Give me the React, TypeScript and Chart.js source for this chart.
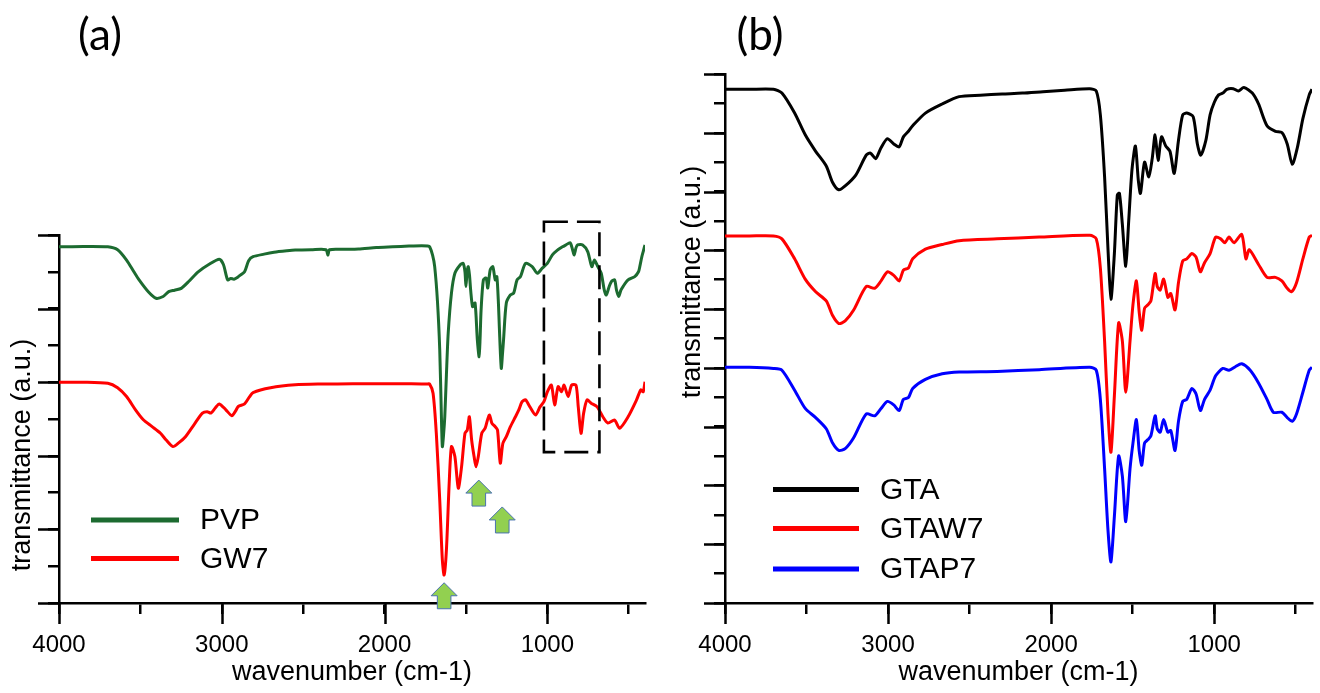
import { useEffect, useRef } from 'react';
import { Chart, registerables } from 'chart.js';

Chart.register(...registerables);

const FONT = '"Liberation Sans", Arial, Helvetica, sans-serif';
const PANEL_FONT = 'Lato, "Open Sans", sans-serif';

// axis ticks
const X_TICKS = [4000, 3500, 3000, 2500, 2000, 1500, 1000, 500];
const X_LABELED = [4000, 3000, 2000, 1000];
const YA_TICKS = [0, 1, 2, 3, 4, 5, 6, 7, 8, 9, 10];
const YA_MAJOR = [0, 2, 4, 6, 8, 10];
const YB_TICKS = [0, 1, 2, 3, 4, 5, 6, 7, 8, 9, 10, 11, 12, 13, 14, 15, 16, 17, 18];
const YB_MAJOR = [0, 2, 4, 6, 8, 10, 12, 14, 16, 18];

// panel (a) spectra: [wavenumber, transmittance (a.u.)]
const PVP: [number, number][] = [
  [4000, 9.68], [3850, 9.69], [3700, 9.68], [3640, 9.6], [3585, 9.32], [3540, 9.0], [3508, 8.78],
  [3450, 8.45], [3404, 8.28], [3360, 8.33], [3326, 8.46], [3290, 8.5], [3249, 8.55], [3200, 8.75],
  [3145, 9.0], [3080, 9.2], [3015, 9.34], [2990, 9.2], [2964, 8.78], [2945, 8.82], [2925, 8.8],
  [2900, 8.86], [2886, 8.91], [2860, 9.0], [2835, 9.3], [2808, 9.41], [2740, 9.48], [2679, 9.53],
  [2600, 9.57], [2549, 9.59], [2450, 9.6], [2360, 9.6], [2348, 9.45], [2338, 9.6], [2250, 9.61],
  [2160, 9.62], [2050, 9.66], [1950, 9.68], [1850, 9.7], [1772, 9.71], [1735, 9.7], [1723, 9.68],
  [1705, 9.45], [1692, 9.14], [1675, 8.2], [1661, 6.88], [1652, 5.3], [1645, 4.25], [1637, 4.6],
  [1630, 5.06], [1620, 6.2], [1609, 7.33], [1589, 8.42], [1568, 8.96], [1537, 9.18], [1517, 9.23],
  [1506, 9.0], [1500, 8.6], [1493, 9.0], [1486, 9.14], [1478, 8.9], [1471, 8.5], [1459, 8.05],
  [1444, 8.15], [1430, 7.15], [1419, 6.69], [1413, 7.2], [1407, 7.96], [1393, 8.78], [1376, 8.83],
  [1366, 8.56], [1351, 9.05], [1335, 9.14], [1320, 8.78], [1310, 8.87], [1300, 8.1], [1295, 7.51],
  [1283, 6.38], [1275, 6.8], [1269, 7.15], [1252, 8.15], [1227, 8.37], [1207, 8.42], [1186, 8.78],
  [1165, 8.87], [1134, 9.23], [1093, 9.14], [1062, 8.96], [1031, 9.1], [1000, 9.23], [969, 9.46],
  [938, 9.59], [907, 9.68], [886, 9.73], [860, 9.79], [845, 9.6], [835, 9.46], [824, 9.65],
  [814, 9.73], [783, 9.73], [752, 9.55], [727, 9.14], [711, 9.32], [690, 9.14], [669, 8.96],
  [650, 8.5], [638, 8.37], [620, 8.6], [607, 8.73], [587, 8.78], [575, 8.5], [562, 8.33],
  [548, 8.5], [535, 8.6], [504, 8.78], [463, 8.87], [440, 9.0], [432, 9.14], [420, 9.4],
  [411, 9.55], [400, 9.73],
];

const GW7: [number, number][] = [
  [4000, 6.0], [3850, 6.0], [3700, 5.97], [3640, 5.85], [3585, 5.61], [3530, 5.25], [3482, 4.98],
  [3430, 4.8], [3378, 4.62], [3340, 4.42], [3300, 4.25], [3265, 4.35], [3223, 4.52], [3170, 4.85],
  [3119, 5.16], [3090, 5.2], [3067, 5.16], [3040, 5.3], [3015, 5.41], [2975, 5.25], [2938, 5.09],
  [2915, 5.22], [2899, 5.34], [2860, 5.41], [2830, 5.6], [2808, 5.72], [2700, 5.85], [2549, 5.93],
  [2400, 5.95], [2290, 5.95], [2100, 5.96], [1900, 5.96], [1772, 5.95], [1740, 5.95], [1723, 5.95],
  [1702, 5.7], [1682, 4.61], [1661, 2.8], [1645, 1.17], [1634, 0.76], [1620, 1.44], [1603, 3.25],
  [1589, 4.25], [1568, 3.98], [1547, 3.12], [1527, 3.7], [1506, 4.61], [1492, 4.7], [1479, 5.06],
  [1465, 4.43], [1450, 3.98], [1438, 3.7], [1424, 3.98], [1403, 4.61], [1382, 4.75], [1368, 4.97],
  [1355, 5.11], [1341, 4.89], [1320, 4.79], [1306, 4.7], [1289, 3.8], [1273, 4.34], [1252, 4.52],
  [1227, 4.79], [1196, 5.06], [1176, 5.24], [1155, 5.47], [1134, 5.52], [1107, 5.33], [1072, 5.11],
  [1045, 5.33], [1021, 5.47], [1000, 5.74], [975, 5.92], [955, 5.38], [934, 5.88], [913, 5.74],
  [897, 5.92], [872, 5.61], [851, 5.92], [824, 5.92], [810, 5.33], [793, 4.61], [777, 5.16],
  [756, 5.52], [731, 5.43], [694, 5.33], [659, 5.06], [628, 4.89], [587, 4.97], [556, 4.75],
  [504, 5.06], [452, 5.52], [426, 5.79], [411, 5.74], [400, 6.01],
];

// panel (b) spectra
const GTA: [number, number][] = [
  [4000, 17.48], [3850, 17.48], [3703, 17.48], [3651, 17.35], [3573, 16.67], [3508, 15.93], [3444, 15.37],
  [3379, 14.87], [3340, 14.31], [3302, 14.06], [3263, 14.19], [3198, 14.56], [3134, 15.24], [3108, 15.31],
  [3076, 15.12], [3043, 15.49], [3004, 15.8], [2965, 15.62], [2932, 15.52], [2906, 15.86], [2875, 16.05],
  [2849, 16.24], [2771, 16.67], [2668, 16.98], [2564, 17.23], [2435, 17.28], [2300, 17.32], [2176, 17.35],
  [2050, 17.4], [1917, 17.45], [1762, 17.5], [1723, 17.42], [1698, 16.61], [1672, 14.5], [1651, 12.02],
  [1633, 10.34], [1612, 11.89], [1594, 13.88], [1581, 13.94], [1563, 12.88], [1542, 11.46], [1524, 13.01],
  [1504, 14.75], [1483, 15.55], [1465, 14.37], [1452, 13.94], [1427, 15.0], [1401, 14.5], [1380, 15.12],
  [1362, 15.93], [1344, 15.06], [1323, 15.86], [1297, 15.55], [1271, 15.37], [1245, 14.62], [1219, 15.74],
  [1193, 16.61], [1168, 16.67], [1129, 16.55], [1103, 15.62], [1082, 15.24], [1051, 15.74], [1025, 16.61],
  [999, 17.04], [973, 17.29], [947, 17.35], [922, 17.48], [883, 17.5], [852, 17.42], [818, 17.54],
  [766, 17.35], [728, 16.98], [676, 16.24], [624, 16.05], [585, 16.01], [552, 15.62], [521, 14.93],
  [490, 15.49], [456, 16.48], [417, 17.29], [400, 17.48],
];

const GTAW7: [number, number][] = [
  [4000, 12.49], [3850, 12.49], [3703, 12.49], [3651, 12.39], [3573, 11.71], [3508, 11.02], [3444, 10.59],
  [3379, 10.28], [3340, 9.78], [3302, 9.51], [3263, 9.6], [3211, 9.97], [3134, 10.77], [3082, 10.71],
  [3043, 10.96], [3004, 11.27], [2965, 11.15], [2932, 10.96], [2906, 11.33], [2875, 11.4], [2849, 11.71],
  [2771, 12.04], [2668, 12.2], [2564, 12.33], [2331, 12.39], [2073, 12.45], [1762, 12.51], [1723, 12.39],
  [1698, 11.4], [1672, 8.91], [1651, 6.43], [1633, 5.13], [1612, 7.05], [1586, 9.53], [1563, 8.91],
  [1542, 7.17], [1516, 8.91], [1498, 10.15], [1477, 10.96], [1460, 9.91], [1444, 9.28], [1427, 10.03],
  [1406, 10.15], [1388, 10.28], [1362, 11.21], [1349, 10.77], [1331, 10.65], [1310, 11.02], [1284, 10.4],
  [1266, 10.53], [1240, 9.97], [1219, 10.9], [1193, 11.64], [1168, 11.71], [1137, 11.89], [1111, 11.77],
  [1085, 11.27], [1059, 11.58], [1025, 11.89], [991, 12.45], [960, 12.39], [934, 12.26], [909, 12.45],
  [878, 12.26], [831, 12.54], [805, 11.71], [785, 12.02], [728, 11.52], [676, 11.08], [624, 11.08],
  [585, 10.96], [552, 10.71], [526, 10.59], [495, 10.9], [456, 11.71], [417, 12.45], [400, 12.51],
];

const GTAP7: [number, number][] = [
  [4000, 8.02], [3850, 8.02], [3703, 7.98], [3651, 7.92], [3573, 7.24], [3508, 6.62], [3444, 6.31],
  [3379, 5.93], [3340, 5.44], [3302, 5.19], [3263, 5.25], [3211, 5.62], [3134, 6.43], [3082, 6.37],
  [3043, 6.62], [3004, 6.86], [2965, 6.74], [2932, 6.55], [2906, 6.93], [2875, 6.99], [2849, 7.3],
  [2771, 7.61], [2668, 7.8], [2564, 7.86], [2331, 7.88], [2073, 7.94], [1762, 8.02], [1723, 7.92],
  [1698, 6.93], [1672, 4.57], [1651, 2.46], [1633, 1.4], [1612, 2.95], [1586, 5.0], [1563, 4.32],
  [1542, 2.77], [1516, 4.57], [1498, 5.44], [1477, 6.24], [1460, 5.19], [1444, 4.69], [1427, 5.44],
  [1406, 5.56], [1388, 5.69], [1362, 6.37], [1349, 5.93], [1331, 5.81], [1310, 6.24], [1284, 5.81],
  [1266, 5.87], [1240, 5.19], [1219, 6.18], [1193, 6.86], [1168, 6.93], [1137, 7.3], [1111, 7.11],
  [1085, 6.55], [1059, 6.93], [1025, 7.24], [991, 7.73], [947, 7.98], [909, 7.92], [870, 8.04],
  [831, 8.14], [779, 7.92], [728, 7.49], [676, 6.93], [637, 6.49], [585, 6.49], [552, 6.31],
  [521, 6.18], [495, 6.43], [456, 7.17], [417, 7.92], [400, 8.02],
];

// annotations in panel (a): arrows [wavenumber, tip value], dashed box [wn1, wn2, top, bottom]
const ARROWS: [number, number][] = [[1634, 0.55], [1421, 3.34], [1277, 2.61]];
const BOX: [number, number, number, number] = [1021, 680, 10.36, 4.1];

type Panel = {
  label: string;
  series: { name: string; color: string; data: [number, number][] }[];
  yTicks: number[];
  yMajor: number[];
  yMax: number;
  padTop: number;
  padRight: number;
  yWidth: number;
  yTitle: { x: number; y: number };
  panelLabel: { x: number; y: number };
  legend: { x0: number; x1: number; tx: number; ys: number[] };
  annotate: boolean;
};

const PANELS: Panel[] = [
  {
    label: '(a)',
    series: [
      { name: 'PVP', color: '#1c6b30', data: PVP },
      { name: 'GW7', color: '#ff0000', data: GW7 },
    ],
    yTicks: YA_TICKS,
    yMajor: YA_MAJOR,
    yMax: 10,
    padTop: 235,
    padRight: 15,
    yWidth: 59,
    yTitle: { x: 23, y: 455 },
    panelLabel: { x: 100, y: 36 },
    legend: { x0: 91, x1: 179, tx: 200, ys: [520, 558.5] },
    annotate: true,
  },
  {
    label: '(b)',
    series: [
      { name: 'GTA', color: '#000000', data: GTA },
      { name: 'GTAW7', color: '#ff0000', data: GTAW7 },
      { name: 'GTAP7', color: '#0000ff', data: GTAP7 },
    ],
    yTicks: YB_TICKS,
    yMajor: YB_MAJOR,
    yMax: 18,
    padTop: 74,
    padRight: 8,
    yWidth: 65,
    yTitle: { x: 33, y: 282 },
    panelLabel: { x: 100, y: 36 },
    legend: { x0: 113, x1: 199, tx: 220, ys: [489.5, 528.5, 569] },
    annotate: false,
  },
];

const MAJOR_LEN = 21;
const MINOR_LEN = 11;
const AXIS_W = 2.5;

function drawArrow(ctx: CanvasRenderingContext2D, cx: number, top: number) {
  const hw = 13, sw = 6.8, hh = 13, h = 26;
  ctx.beginPath();
  ctx.moveTo(cx, top);
  ctx.lineTo(cx + hw, top + hh);
  ctx.lineTo(cx + sw, top + hh);
  ctx.lineTo(cx + sw, top + h);
  ctx.lineTo(cx - sw, top + h);
  ctx.lineTo(cx - sw, top + hh);
  ctx.lineTo(cx - hw, top + hh);
  ctx.closePath();
  ctx.fillStyle = '#92D050';
  ctx.fill();
  ctx.strokeStyle = '#4a72b0';
  ctx.lineWidth = 1;
  ctx.stroke();
}

function makeDecor(p: Panel) {
  return {
    id: 'decor' + p.label,
    afterDraw(chart: any) {
      const { ctx, chartArea, scales } = chart;
      const xs = scales.x;
      const ys = scales.y;
      ctx.save();
      // long (major) ticks
      ctx.strokeStyle = '#000';
      ctx.lineWidth = AXIS_W;
      ctx.beginPath();
      for (const v of X_LABELED) {
        const px = Math.round(xs.getPixelForValue(v)) + 0.5;
        ctx.moveTo(px, chartArea.bottom);
        ctx.lineTo(px, chartArea.bottom + MAJOR_LEN);
      }
      for (const v of p.yMajor) {
        const py = Math.round(ys.getPixelForValue(v)) + 0.5;
        ctx.moveTo(chartArea.left - MAJOR_LEN, py);
        ctx.lineTo(chartArea.left, py);
      }
      ctx.stroke();

      // y title
      ctx.save();
      ctx.translate(p.yTitle.x, p.yTitle.y);
      ctx.rotate(-Math.PI / 2);
      ctx.fillStyle = '#000';
      ctx.font = `27px ${FONT}`;
      ctx.textAlign = 'center';
      ctx.textBaseline = 'middle';
      ctx.fillText('transmittance (a.u.)', 0, 0);
      ctx.restore();

      // panel label
      ctx.fillStyle = '#000';
      ctx.font = `44px ${PANEL_FONT}`;
      ctx.textAlign = 'center';
      ctx.textBaseline = 'middle';
      ctx.fillText(p.label, p.panelLabel.x, p.panelLabel.y);

      // legend
      p.series.forEach((s, i) => {
        const y = p.legend.ys[i];
        ctx.strokeStyle = s.color;
        ctx.lineWidth = 5;
        ctx.beginPath();
        ctx.moveTo(p.legend.x0, y);
        ctx.lineTo(p.legend.x1, y);
        ctx.stroke();
        ctx.fillStyle = '#000';
        ctx.font = `30px ${FONT}`;
        ctx.textAlign = 'left';
        ctx.textBaseline = 'middle';
        ctx.fillText(s.name, p.legend.tx, y + 1);
      });

      if (p.annotate) {
        // dashed box
        const [w1, w2, t, b] = BOX;
        const x1 = xs.getPixelForValue(w1);
        const x2 = xs.getPixelForValue(w2);
        const y1 = ys.getPixelForValue(t);
        const y2 = ys.getPixelForValue(b);
        ctx.strokeStyle = '#000';
        ctx.lineWidth = 2.6;
        ctx.setLineDash([24, 9]);
        ctx.strokeRect(x1, y1, x2 - x1, y2 - y1);
        ctx.setLineDash([]);
        // arrows
        for (const [w, v] of ARROWS) {
          drawArrow(ctx, xs.getPixelForValue(w), ys.getPixelForValue(v));
        }
      }
      ctx.restore();
    },
  };
}

function buildConfig(p: Panel): any {
  return {
    type: 'line',
    data: {
      datasets: p.series.map((s) => ({
        label: s.name,
        data: s.data.map(([x, y]) => ({ x, y })),
        borderColor: s.color,
        backgroundColor: s.color,
        borderWidth: 3,
        pointRadius: 0,
        tension: 0.25,
        fill: false,
      })),
    },
    options: {
      animation: false,
      responsive: false,
      maintainAspectRatio: false,
      events: [],
      layout: { padding: { left: 0, right: p.padRight, top: p.padTop, bottom: 0 } },
      plugins: { legend: { display: false }, tooltip: { enabled: false }, title: { display: false } },
      scales: {
        x: {
          type: 'linear',
          min: 400,
          max: 4000,
          reverse: true,
          afterBuildTicks: (s: any) => {
            s.ticks = X_TICKS.map((v) => ({ value: v }));
          },
          afterFit: (s: any) => {
            s.height = 90;
          },
          ticks: {
            autoSkip: false,
            maxRotation: 0,
            padding: 17,
            color: '#000',
            font: { family: FONT, size: 24 },
            callback: (v: number) => (X_LABELED.includes(v) ? String(v) : ''),
          },
          grid: { drawOnChartArea: false, drawTicks: true, tickLength: MINOR_LEN, color: '#000', lineWidth: AXIS_W },
          border: { display: true, color: '#000', width: AXIS_W },
          title: {
            display: true,
            text: 'wavenumber (cm-1)',
            color: '#000',
            font: { family: FONT, size: 27 },
            padding: { top: 0, bottom: 4 },
          },
        },
        y: {
          type: 'linear',
          min: 0,
          max: p.yMax,
          afterBuildTicks: (s: any) => {
            s.ticks = p.yTicks.map((v) => ({ value: v }));
          },
          afterFit: (s: any) => {
            s.width = p.yWidth;
          },
          ticks: { display: false },
          grid: { drawOnChartArea: false, drawTicks: true, tickLength: MINOR_LEN, color: '#000', lineWidth: AXIS_W },
          border: { display: true, color: '#000', width: AXIS_W },
        },
      },
    },
    plugins: [makeDecor(p)],
  };
}

function PanelChart({ panel, left }: { panel: Panel; left: number }) {
  const ref = useRef<HTMLCanvasElement | null>(null);
  useEffect(() => {
    if (!ref.current) return;
    const chart = new Chart(ref.current, buildConfig(panel));
    return () => chart.destroy();
  }, [panel]);
  return (
    <canvas
      ref={ref}
      width={660}
      height={693}
      style={{ position: 'absolute', left, top: 0, width: 660, height: 693 }}
    />
  );
}

export default function App() {
  return (
    <div style={{ position: 'absolute', left: 0, top: 0, width: 1320, height: 693, background: '#fff', overflow: 'hidden' }}>
      <PanelChart panel={PANELS[0]} left={0} />
      <PanelChart panel={PANELS[1]} left={660} />
    </div>
  );
}
